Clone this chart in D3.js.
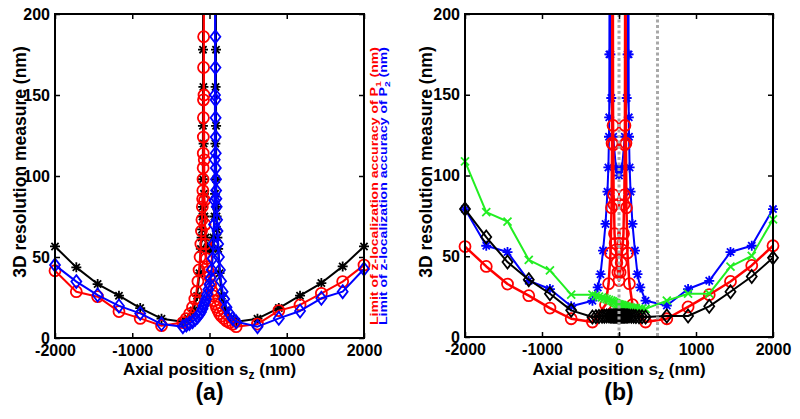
<!DOCTYPE html>
<html><head><meta charset="utf-8">
<script src="https://cdn.jsdelivr.net/npm/d3@7"></script>
<style>
body{margin:0;background:#fff}
svg text{font-family:"Liberation Sans",Arial,sans-serif;font-weight:bold}
</style>
</head><body>
<svg id="c" width="800" height="419"></svg>
<script>
// ---------- tick labels ----------
const xTicks = [-2000, -1000, 0, 1000, 2000];
const yTicks = [0, 50, 100, 150, 200];

// ---------- panel (a) ----------
const aBlackX = [-2000,-1724,-1448,-1172,-897,-621,-345,-276,-207,-160,-130,-112,-102,-95,-91,-88,-86,-85,-84,-83,
                 -81,-79,-76,-72,-65,-50,-25,0,25,50,65,72,76,79,81,
                 83,84,85,86,88,91,95,102,112,130,160,207,276,345,621,897,1172,1448,1724,2000];
const aBlackY = [56.5,43.6,33.3,26.1,18.5,11.9,10,12,17,26,40,55,62,67,75,81,98,131,178,230,
                 230,155,120,89,75,62,56,54,56,62,75,89,120,155,230,
                 230,178,131,98,81,75,67,62,55,40,26,17,12,10,11.9,18.5,26.1,33.9,44.2,56.5];

const aRedX = [-2000,-1724,-1448,-1172,-897,-621,-345,-300,-258,-220,-190,-170,-150,-135,-122,-112,-104,-98,-93,-89,-86,-84,-82,-81,-80,-79,-78,-77,-76,-75,
               -73,-71,-68,-64,-58,-50,-40,-28,-15,0,15,30,45,60,75,90,110,130,155,185,220,260,300,345,621,897,1172,1448,1724,2000];
const aRedY = [41.5,28.6,25.5,16.3,12.1,7.6,9.5,12,15,19,24,28.6,35,42,50,58,66,73,81,86,91,98,105,114,124,136,147,167,186,230,
               230,150,110,85,70,58,49,44,41,38,33,29,26,23,21,19,17,15,13.5,12,10.5,9.5,8.5,7,8.6,16.9,20.4,27.6,34.8,45];

const aBlueX = [-2000,-1724,-1448,-1172,-897,-621,-345,-300,-260,-220,-185,-155,-130,-110,-90,-75,-60,-45,-30,-15,0,15,28,40,50,58,64,68,71,73,
                75,76,77,78,79,80,81,82,84,86,89,93,98,104,112,122,135,150,170,190,220,258,300,345,621,897,1172,1448,1724,2000];
const aBlueY = [45,34.8,26.5,19.8,15.2,8.6,7,8,9,10,11.5,13,14.5,16,18,20,22,24,27,30,33,37,42,49,58,70,85,110,150,230,
                230,186,167,147,136,124,114,105,98,91,86,81,73,66,58,50,42,35,28.6,24,19,15,12,10,7,12.1,16.7,24.5,28.6,42.6];

// ---------- panel (b) ----------
const bRedX = [-2000,-1724,-1448,-1172,-897,-621,-345,-175,-135,-110,-97,-90,-86,
               -80,-77,-74,-70,-65,-58,-50,-40,-28,-14,0,14,28,40,50,58,65,70,74,77,80,
               86,90,97,110,135,175,345,621,897,1172,1448,1724,2000];
const bRedY = [56,43.7,32.8,25.6,17.9,11.3,9.3,20,33,52,80,120,230,
               230,131,119,88,82,64,58,54,46,40,35,40,46,54,58,64,82,88,119,131,230,
               230,120,80,52,33,20,9.3,11.3,18.6,26.2,34.4,44.3,56.5];

const bBlueX = [-2000,-1724,-1448,-1172,-897,-621,-345,-276,-240,-207,-175,-150,-138,-130,-127,-125,-123,
                -119,-112,-100,-75,-40,0,40,75,100,112,119,
                123,125,127,130,138,150,175,207,240,276,345,621,897,1172,1448,1724,2000];
const bBlueY = [79.2,56.5,52.6,34.8,29.7,19,22.5,30.7,38.9,53.5,70,90,105,124,136,175,230,
                230,175,148,124,105,100,105,124,148,175,230,
                230,175,136,124,105,90,70,53.5,38.9,30.7,22.5,19.5,29.7,34.8,52.6,56.5,79.2];

const bGreenX = [-2000,-1724,-1448,-1172,-897,-621,-345,-300,-260,-220,-190,-160,-130,-100,-80,-60,-40,-20,
                 0,20,40,60,80,100,130,160,190,220,260,300,345,621,897,1172,1448,1724,2000];
const bGreenY = [108.7,77.3,71.5,47.8,41.2,26.2,26.2,25.5,25,24.5,24,23.5,23,22.5,22,21.5,21,20.5,
                 20.2,20,19.7,19.4,19.1,18.8,18.5,18.2,18,17.8,17.6,17.5,17.4,22.5,26.8,26.8,43.6,50.2,72.8];

const bBlackX = [-2000,-1724,-1448,-1172,-897,-621,-345,
                 -300,-260,-220,-190,-160,-130,-110,-95,-80,-70,-60,-50,-40,-30,-20,-10,
                 0,10,20,30,40,50,60,70,80,95,110,130,160,190,220,260,300,
                 345,621,897,1172,1448,1724,2000];
const bBlackY = [79.2,61.9,46.4,35.5,26.8,16.5,12.4,
                 12.6,12.7,12.8,12.9,13,13,13,13,13,13,13,13,13,13,13,13,
                 13,13,13,13,13,13,13,13,13,13,13,13,12.9,12.8,12.7,12.6,12.5,
                 12.4,13,13,19,28,37.5,49];

const bDashedX = [0, 500];

// ---------- drawing ----------
const RED = "#ff0000", BLUE = "#0000ff", BLACK = "#000000", GREEN = "#22ee22";
const markerPath = {
  circle: "M5.5,0A5.5,5.5 0 1,1 -5.5,0A5.5,5.5 0 1,1 5.5,0Z",
  diamond: "M0,-6.5L5,0L0,6.5L-5,0Z",
  star: "M-5,0H5M0,-5V5M-3.6,-3.6L3.6,3.6M-3.6,3.6L3.6,-3.6",
  xmark: "M-4,-4L4,4M-4,4L4,-4"
};

const svg = d3.select("#c");
const FONT = '"Liberation Sans",Arial,sans-serif';

function panel(cfg) {
  const x = d3.scaleLinear().domain([-2000, 2000]).range([cfg.left, cfg.right]);
  const y = d3.scaleLinear().domain([0, 200]).range([cfg.bottom, cfg.top]);
  const g = svg.append("g");
  const clipId = "clip" + cfg.id;
  svg.append("clipPath").attr("id", clipId).append("rect")
    .attr("x", cfg.left - 20).attr("y", cfg.top)
    .attr("width", cfg.right - cfg.left + 40).attr("height", cfg.bottom - cfg.top + 20);
  const plot = g.append("g").attr("clip-path", `url(#${clipId})`);

  cfg.series.forEach(s => {
    const pts = s.x.map((v, i) => [v, s.y[i]]);
    plot.append("path").datum(pts)
      .attr("d", d3.line().x(d => x(d[0])).y(d => y(d[1])))
      .attr("fill", "none").attr("stroke", s.color).attr("stroke-width", s.lw || 2)
      .attr("stroke-linejoin", "round");
    plot.append("g").selectAll("path").data(pts).join("path")
      .attr("transform", d => `translate(${x(d[0])},${y(d[1])})`)
      .attr("d", markerPath[s.marker])
      .attr("fill", "none").attr("stroke", s.color).attr("stroke-width", s.mw || 1.8);
  });

  (cfg.dashed || []).forEach(v => {
    plot.append("line").attr("x1", x(v)).attr("x2", x(v)).attr("y1", cfg.top).attr("y2", cfg.bottom)
      .attr("stroke", "#a8a8a8").attr("stroke-width", 3).attr("stroke-dasharray", "3,2.5");
  });

  const styleAxis = sel => {
    sel.select(".domain").remove();
    sel.selectAll(".tick line").attr("stroke", "#000").attr("stroke-width", 1.5);
    sel.attr("font-size", 16).attr("font-family", FONT).attr("font-weight", "bold");
    sel.selectAll("text").attr("fill", "#000");
  };
  g.append("g").attr("transform", `translate(0,${cfg.bottom})`)
    .call(d3.axisBottom(x).tickValues(xTicks).tickSize(-5).tickPadding(7).tickFormat(d => String(d)))
    .call(styleAxis);
  g.append("g").attr("transform", `translate(0,${cfg.top})`)
    .call(d3.axisTop(x).tickValues(xTicks).tickSize(-5).tickFormat(""))
    .call(styleAxis);
  g.append("g").attr("transform", `translate(${cfg.left},0)`)
    .call(d3.axisLeft(y).tickValues(yTicks).tickSize(-5).tickPadding(5).tickFormat(d => String(d)))
    .call(styleAxis);
  g.append("g").attr("transform", `translate(${cfg.right},0)`)
    .call(d3.axisRight(y).tickValues(yTicks).tickSize(-5).tickFormat(""))
    .call(styleAxis);

  g.append("rect").attr("x", cfg.left).attr("y", cfg.top)
    .attr("width", cfg.right - cfg.left).attr("height", cfg.bottom - cfg.top)
    .attr("fill", "none").attr("stroke", "#000").attr("stroke-width", 2);

  // y label
  g.append("text").attr("transform", `translate(${cfg.ylabX},162) rotate(-90)`)
    .attr("text-anchor", "middle").attr("font-size", 17.5)
    .text("3D resolution measure (nm)");
  // x label
  const xl = g.append("text").attr("x", (cfg.left + cfg.right) / 2).attr("y", 375)
    .attr("text-anchor", "middle").attr("font-size", 17);
  xl.append("tspan").text("Axial position s");
  xl.append("tspan").attr("font-size", 12).attr("dy", 4).text("z");
  xl.append("tspan").attr("dy", -4).text(" (nm)");
  // panel letter
  g.append("text").attr("x", (cfg.left + cfg.right) / 2).attr("y", 400)
    .attr("text-anchor", "middle").attr("font-size", 23).text(cfg.letter);
}

panel({
  id: "a", left: 55, right: 364, top: 14, bottom: 338, ylabX: 25.5, letter: "(a)",
  series: [
    { x: aBlackX, y: aBlackY, color: BLACK, marker: "star" },
    { x: aRedX, y: aRedY, color: RED, marker: "circle" },
    { x: aBlueX, y: aBlueY, color: BLUE, marker: "diamond" }
  ]
});

panel({
  id: "b", left: 465, right: 773, top: 14, bottom: 337, ylabX: 431.5, letter: "(b)",
  dashed: bDashedX,
  series: [
    { x: bBlueX, y: bBlueY, color: BLUE, marker: "star" },
    { x: bRedX, y: bRedY, color: RED, marker: "circle", lw: 2.5 },
    { x: bGreenX, y: bGreenY, color: GREEN, marker: "xmark" },
    { x: bBlackX, y: bBlackY, color: BLACK, marker: "diamond" }
  ]
});

// right-side rotated labels of panel (a)
function sideLabel(xb, color, sub) {
  const t = svg.append("text").attr("transform", `translate(${xb},325) rotate(-90)`)
    .attr("font-size", 11).attr("fill", color)
    .attr("textLength", 278).attr("lengthAdjust", "spacingAndGlyphs");
  t.append("tspan").text("Limit of z-localization accuracy of P");
  t.append("tspan").attr("font-size", 8).attr("dy", 3).text(sub);
  t.append("tspan").attr("dy", -3).text(" (nm)");
}
sideLabel(377.5, RED, "1");
sideLabel(387, BLUE, "2");
</script>
</body></html>
